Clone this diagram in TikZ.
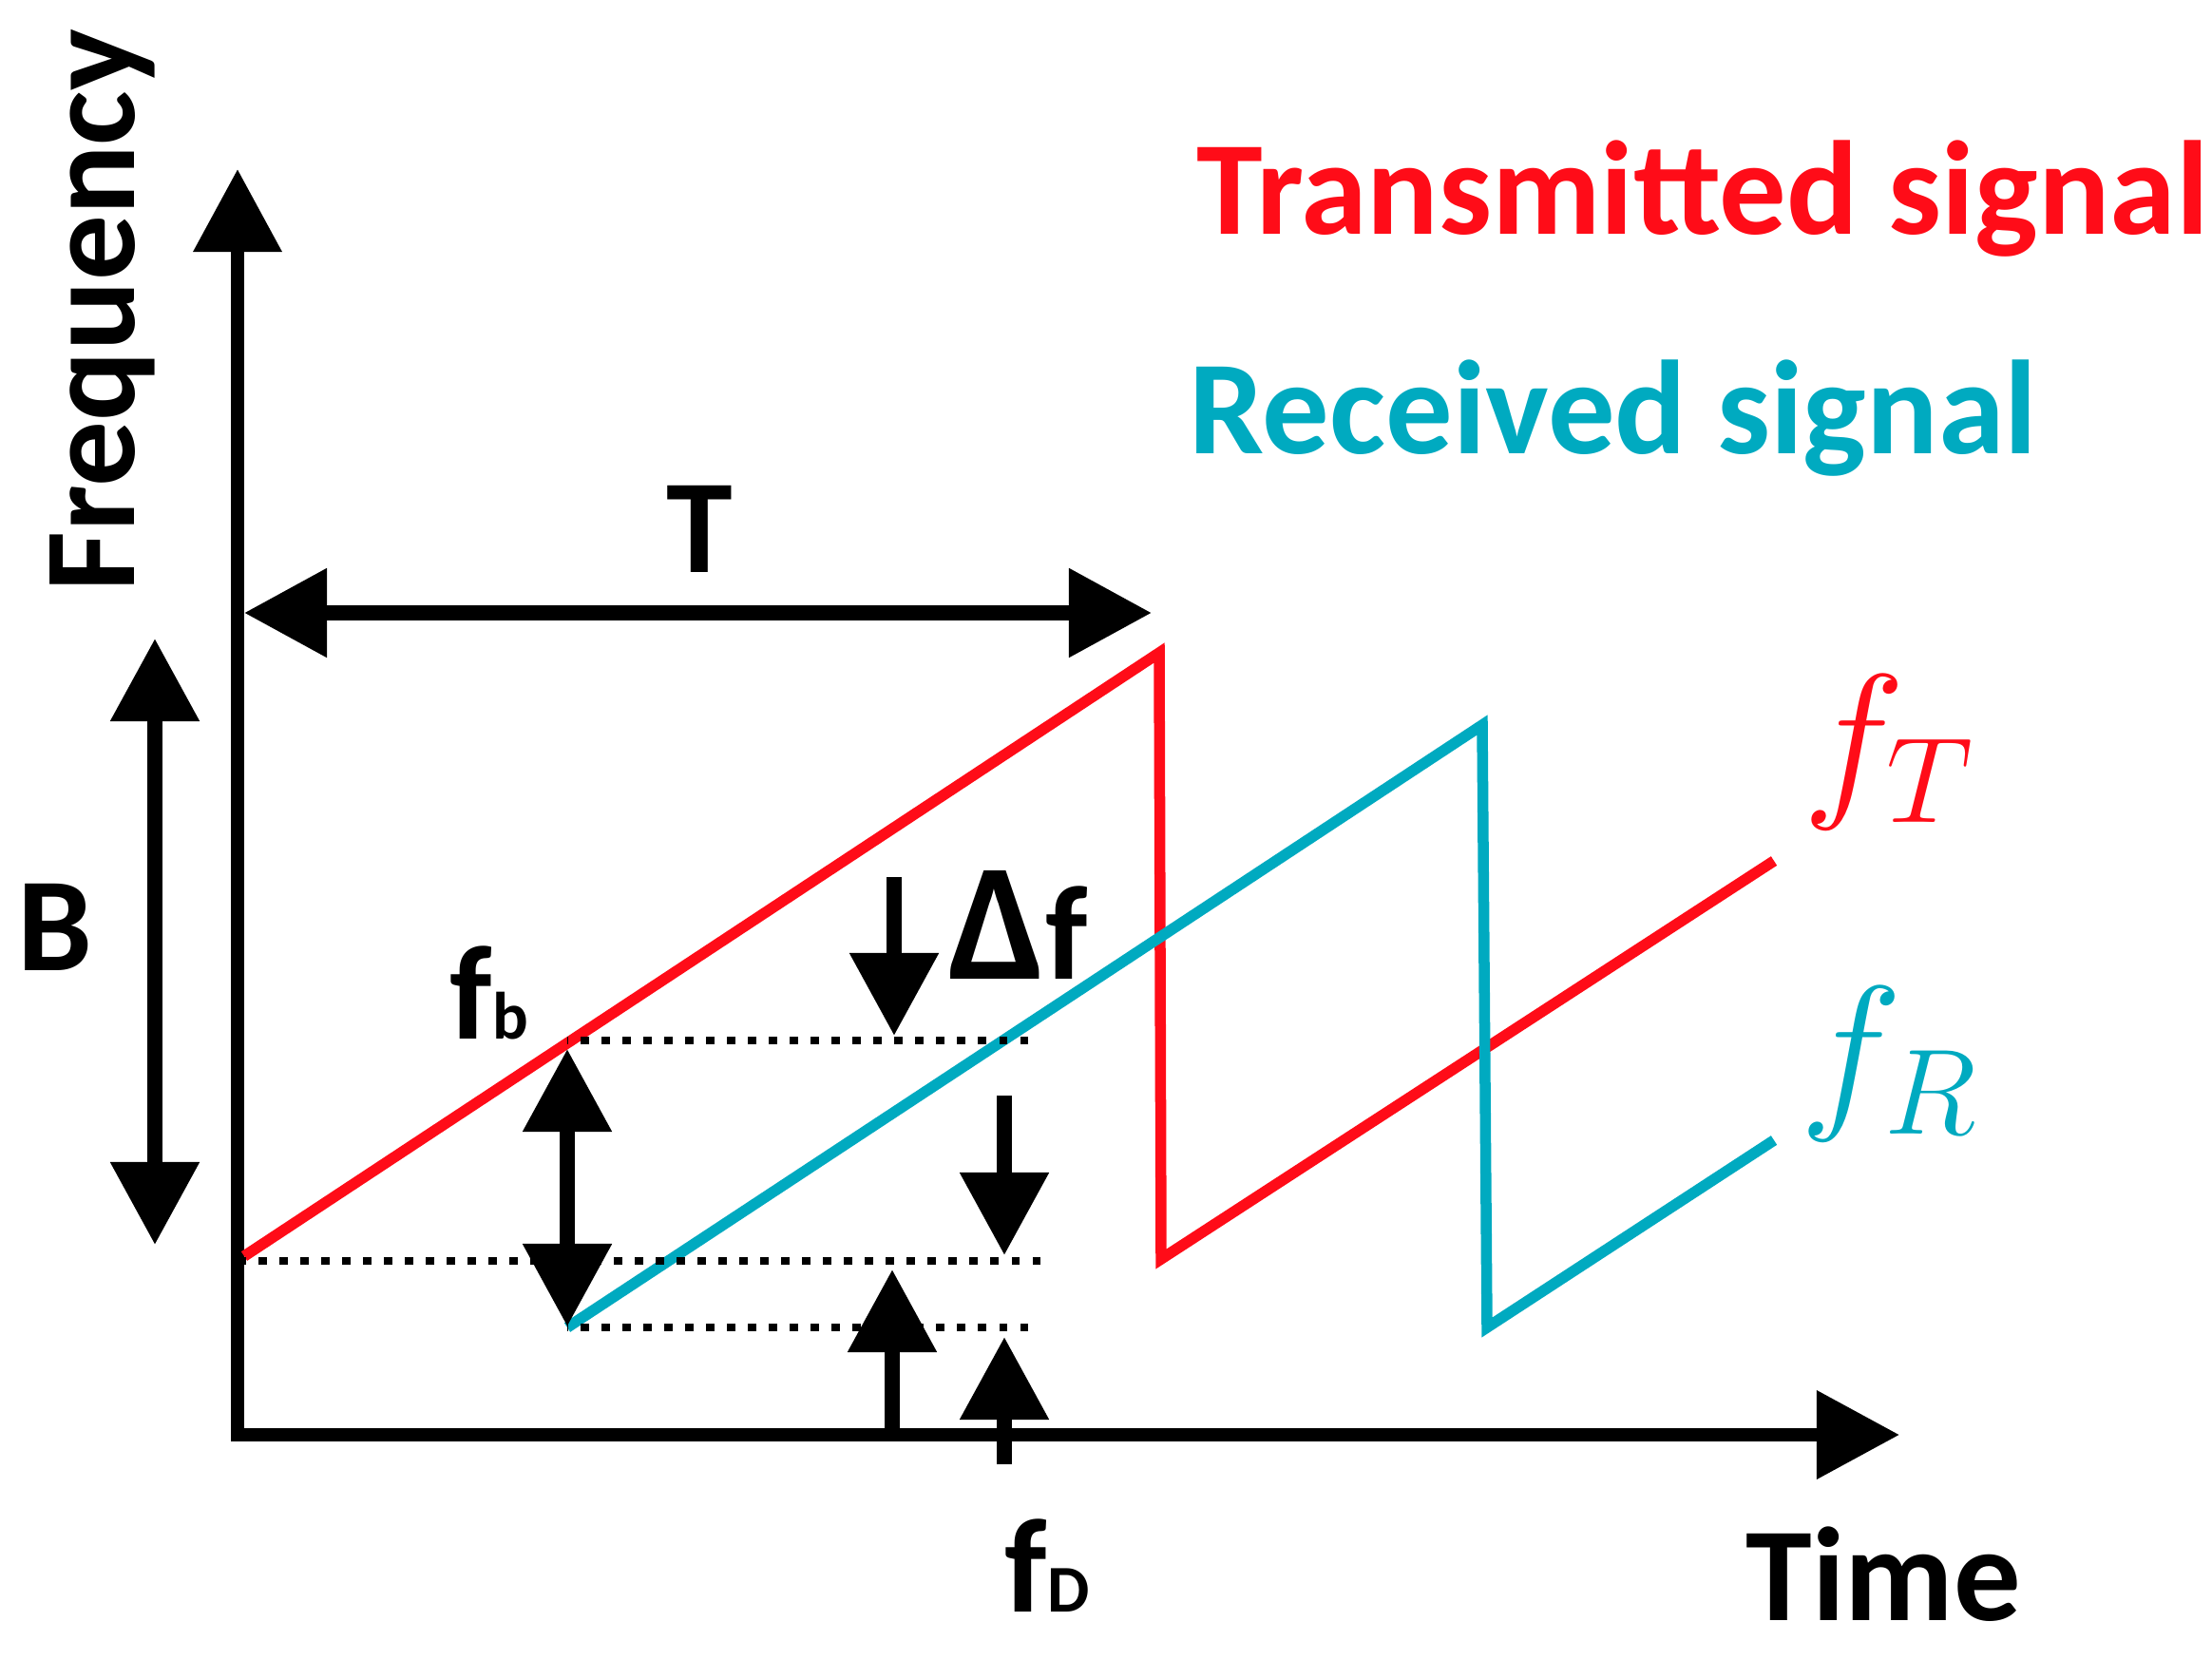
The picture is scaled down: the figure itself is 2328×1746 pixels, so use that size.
\documentclass[tikz,border=0pt]{standalone}
\usepackage{fix-cm}
\usepackage{fontspec}
\setmainfont{Carlito}
\usetikzlibrary{arrows.meta}
\definecolor{txred}{RGB}{255,12,24}
\definecolor{rxcyan}{RGB}{0,170,192}

\begin{document}
\begin{tikzpicture}
		[x=0.01cm,y=-0.01cm,
		 tip/.tip={Triangle[length=0.87cm,width=0.9cm]},
		 ar/.style={line width=0.155cm,-tip},
		 dar/.style={line width=0.155cm,tip-tip},
		 dots/.style={line width=0.085cm,dash pattern=on 0.085cm off 0.135cm},
		 sig/.style={line width=0.115cm,line join=miter},
		 lab/.style={inner sep=0pt,font=\fontsize{40}{40}\selectfont\bfseries}]

		\useasboundingbox (0,0) rectangle (2328,1746);

		% axes
		\coordinate (ytop) at (250,178);
		\coordinate (xend) at (1999,1510);
		\draw[dar,line width=0.14cm] (ytop) |- (xend);

		\node[lab,font=\fontsize{39}{39}\selectfont\bfseries,rotate=90,anchor=base west] (freq) at (141,623) {Frequency};
		\node[lab,anchor=base west] (time) at (1837,1705) {Time};

		% period and bandwidth
		\coordinate (t0) at (257,645);
		\coordinate (t1) at (1212,645)
			edge [dar]	(t0)
		;
		\node[lab,anchor=base] (tlab) at (736,603) {T};

		\coordinate (b0) at (163,672);
		\coordinate (b1) at (163,1310)
			edge [dar]	(b0)
		;
		\node[lab,anchor=base] (blab) at (58,1021) {B};

		% signals
		\coordinate (r0) at (257,1322);
		\coordinate (r1) at (1220,687);
		\coordinate (r2) at (1222,1325);
		\coordinate (r3) at (1867,906);
		\draw[sig,txred] (r0) -- (r1) -- (r2) -- (r3);

		\coordinate (c0) at (597,1397);
		\coordinate (c1) at (1560,763);
		\coordinate (c2) at (1565,1397);
		\coordinate (c3) at (1867,1200);
		\draw[sig,rxcyan] (c0) -- (c1) -- (c2) -- (c3);

		\node[inner sep=0pt,text=txred,font=\fontsize{52}{52}\selectfont] (ft) at (1988,792) {$f_T$};
		\node[inner sep=0pt,text=rxcyan,font=\fontsize{52}{52}\selectfont] (fr) at (1988,1120) {$f_R$};
		\node[lab,anchor=base west,text=txred] (tsig) at (1259,247) {Transmitted signal};
		\node[lab,anchor=base west,text=rxcyan] (rsig) at (1251,478) {Received signal};

		% levels
		\coordinate (fb0) at (597,1095);
		\coordinate (fb1) at (1082,1095)
			edge [dots]	(fb0)
		;
		\coordinate (m0) at (257,1327);
		\coordinate (m1) at (1095,1327)
			edge [dots]	(m0)
		;
		\coordinate (l0) at (597,1397);
		\coordinate (l1) at (1082,1397)
			edge [dots]	(l0)
		;

		% beat and doppler arrows
		\coordinate (bt0) at (597,1104);
		\coordinate (bt1) at (597,1396)
			edge [dar]	(bt0)
		;
		\node[lab,anchor=base west] (fb) at (473,1093) {f{\fontsize{20}{20}\selectfont b}};

		\coordinate (d0) at (941,923);
		\coordinate (d1) at (941,1090);
		\draw[ar] (d0) -- (d1);
		\node[lab,anchor=base west] (df) at (998,1030) {{\fontsize{50}{50}\selectfont Δ}f};

		\coordinate (e0) at (1057,1153);
		\coordinate (e1) at (1057,1321);
		\draw[ar] (e0) -- (e1);

		\coordinate (u0) at (939,1507);
		\coordinate (u1) at (939,1336);
		\draw[ar] (u0) -- (u1);

		\coordinate (v0) at (1057,1541);
		\coordinate (v1) at (1057,1407);
		\draw[ar] (v0) -- (v1);
		\node[lab,anchor=base west] (fd) at (1057,1696) {f{\fontsize{20}{20}\selectfont D}};

	\end{tikzpicture}
\end{document}
